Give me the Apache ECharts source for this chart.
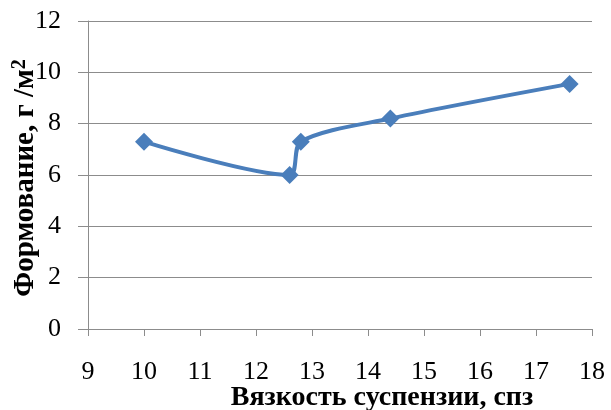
<!DOCTYPE html>
<html>
<head>
<meta charset="utf-8">
<script src="https://cdn.jsdelivr.net/npm/echarts@6/dist/echarts.min.js"></script>
<style>
  html, body { margin: 0; padding: 0; background: #fff; }
  #chart { width: 611px; height: 410px; }
</style>
</head>
<body>
<div id="chart"></div>
<script>
// Viscosity of suspension (cP) vs. formation (g/m²)
const viscosity = [10, 12.6, 12.8, 14.4, 17.6];
const formation = [7.3, 6.0, 7.3, 8.2, 9.55];

const xTitle = 'Вязкость суспензии, спз';
const yTitle = 'Формование, г /м{sup|2}';

const points = viscosity.map((v, i) => [v, formation[i]]);
const serif = 'Liberation Serif';
const gridGray = '#8c8c8c';

const chart = echarts.init(document.getElementById('chart'));
chart.setOption({
  animation: false,
  backgroundColor: '#fff',
  grid: { left: 88, right: 19, top: 21, bottom: 81, containLabel: false, outerBoundsMode: 'none' },
  xAxis: {
    type: 'value',
    min: 9, max: 18, interval: 1,
    name: xTitle,
    nameLocation: 'middle',
    nameGap: 55,
    nameMoveOverlap: false,
    nameTextStyle: { fontFamily: serif, fontWeight: 'bold', fontSize: 28, color: '#000', padding: [0, 0, 0, 84] },
    axisLine: { show: true, lineStyle: { color: gridGray, width: 1 } },
    axisTick: { show: true, length: 7, lineStyle: { color: gridGray } },
    axisLabel: { fontFamily: serif, fontSize: 26, color: '#000', margin: 30 },
    splitLine: { show: false }
  },
  yAxis: {
    type: 'value',
    min: 0, max: 12, interval: 2,
    name: yTitle,
    nameLocation: 'middle',
    nameGap: 46,
    nameMoveOverlap: false,
    nameTextStyle: {
      fontFamily: serif, fontWeight: 'bold', fontSize: 29, color: '#000', padding: [0, 6, 0, 0],
      rich: { sup: { fontFamily: serif, fontWeight: 'bold', fontSize: 20, color: '#000', verticalAlign: 'top', padding: [0, 0, 12, 0] } }
    },
    axisLine: { show: true, lineStyle: { color: gridGray, width: 1 } },
    axisTick: { show: true, length: 10, lineStyle: { color: gridGray } },
    axisLabel: { fontFamily: serif, fontSize: 26, color: '#000', margin: 27 },
    splitLine: { show: true, lineStyle: { color: gridGray, width: 1 } }
  },
  series: [{
    type: 'line',
    data: points,
    smooth: 0.3,
    symbol: 'diamond',
    symbolSize: 18,
    lineStyle: { color: '#4a7ebb', width: 4 },
    itemStyle: { color: '#4a7ebb' }
  }]
});
</script>
</body>
</html>
